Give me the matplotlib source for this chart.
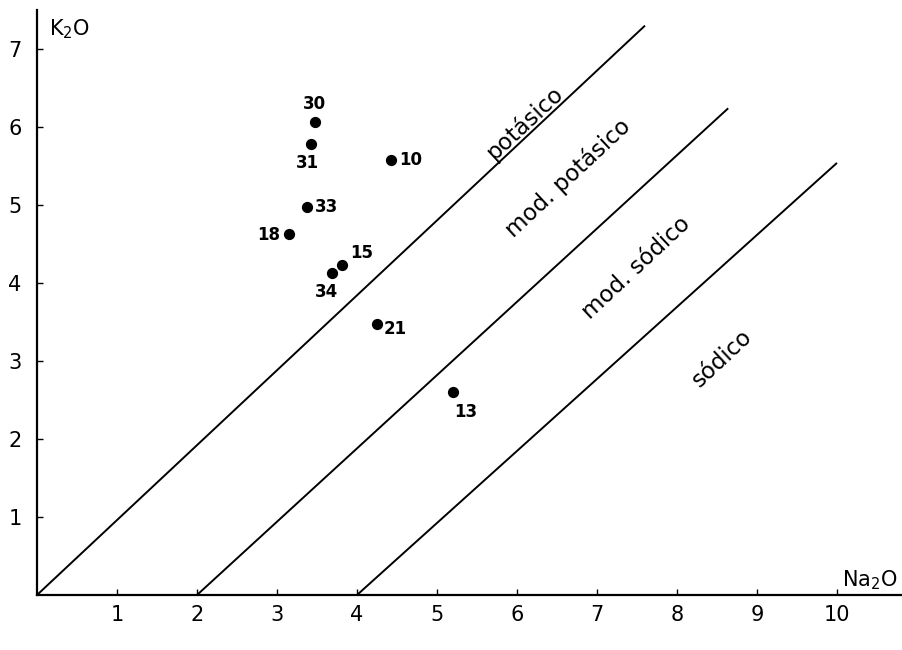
import numpy as np
import matplotlib.pyplot as plt

# K2O vs Na2O diagram (potasico / sodico fields)
na2o = [3.47, 3.42, 4.42, 3.37, 3.15, 3.81, 3.69, 4.25, 5.20]
k2o = [6.06, 5.78, 5.58, 4.97, 4.63, 4.23, 4.13, 3.47, 2.60]
sample_ids = ["30", "31", "10", "33", "18", "15", "34", "21", "13"]
# label offsets in points (dx, dy) and alignment
label_pos = [(0, 7, "center", "bottom"), (-2, -7, "center", "top"),
             (6, 0, "left", "center"), (6, 0, "left", "center"),
             (-6, -1, "right", "center"), (6, 2, "left", "bottom"),
             (-4, -7, "center", "top"), (5, -3, "left", "center"),
             (1, -8, "left", "top")]

# boundary lines: start on the Na2O axis, end points
line_x0 = [0, 2, 4]
line_x1 = [7.60, 8.64, 10.0]
line_y1 = [7.30, 6.24, 5.54]

zone_names = ["potásico", "mod. potásico", "mod. sódico", "sódico"]
zone_x = [6.10, 6.64, 7.49, 8.56]
zone_y = [6.06, 5.35, 4.19, 3.03]

fig = plt.figure(figsize=(9.02, 6.5), dpi=100)
ax = fig.add_axes([37/902, 55/650, 864/902, 585/650])
ax.set_xlim(0, 10.8)
ax.set_ylim(0, 7.5)

for x0, x1, y1 in zip(line_x0, line_x1, line_y1):
    ax.plot([x0, x1], [0, y1], color="black", lw=1.4, solid_capstyle="butt")

ax.scatter(na2o, k2o, s=50, color="black", zorder=3)
for x, y, t, (dx, dy, ha, va) in zip(na2o, k2o, sample_ids, label_pos):
    ax.annotate(t, (x, y), xytext=(dx, dy), textcoords="offset points",
                ha=ha, va=va, fontsize=12, fontweight="bold")

for name, x, y in zip(zone_names, zone_x, zone_y):
    ax.text(x, y, name, rotation=43, ha="center", va="center",
            rotation_mode="anchor", fontsize=16.5)

for s in ["top", "right"]:
    ax.spines[s].set_visible(False)
for s in ["left", "bottom"]:
    ax.spines[s].set_linewidth(1.6)

ax.set_xticks(range(1, 11))
ax.set_yticks(range(1, 8))
ax.tick_params(axis="both", direction="in", length=4, width=1, labelsize=15)
ax.tick_params(axis="y", pad=11)
ax.tick_params(axis="x", pad=7)

ax.text(0.15, 7.25, r"K$_2$O", fontsize=15, va="center")
ax.text(10.06, 0.04, r"Na$_2$O", fontsize=15, va="bottom")

fig.savefig("out.png", dpi=100)
